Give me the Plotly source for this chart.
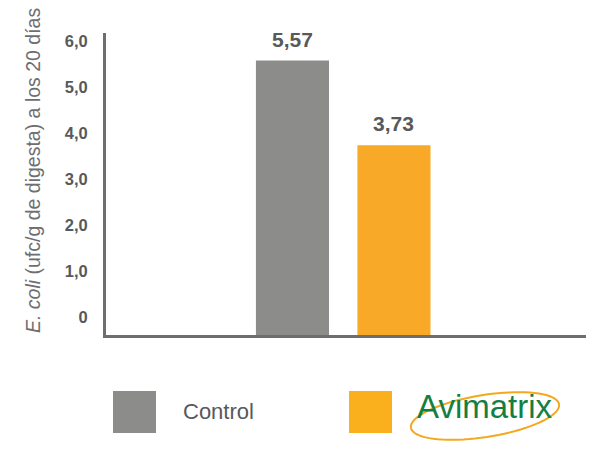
import numpy as np
import plotly.graph_objects as go

# ---- data ----
categories = ["Control", "Avimatrix"]
values = [5.57, 3.73]
value_labels = ["5,57", "3,73"]
tick_vals = [0, 1, 2, 3, 4, 5, 6]
tick_text = ["0", "1,0", "2,0", "3,0", "4,0", "5,0", "6,0"]
bar_colors = ["#8c8c8b", "#f7a927"]

# ---- layout geometry (pixels) ----
W, H = 600, 465
L, R, T, B = 106, 586, 33, 335
YMIN, YMAX = -0.39, 6.17


def px(x):
    return (x - L) / (R - L)


def py(y):
    return (B - y) / (B - T)


fig = go.Figure()
fig.add_trace(go.Bar(
    x=categories,
    y=[v - YMIN for v in values],
    base=YMIN,
    width=0.72,
    marker=dict(color=bar_colors, line=dict(width=0)),
    hoverinfo="skip",
    showlegend=False,
))

annotations = []
for c, v, t in zip(categories, values, value_labels):
    annotations.append(dict(
        x=c, y=v, xref="x", yref="y", text=t, showarrow=False,
        yanchor="bottom", yshift=8,
        font=dict(family="Liberation Sans", size=21, color="#58595b", weight="bold"),
    ))

# y axis title
annotations.append(dict(
    x=px(33), y=py(171), xref="paper", yref="paper",
    text="<i>E. coli</i> (ufc/g de digesta) a los 20 días",
    textangle=-90, showarrow=False, xanchor="center", yanchor="middle",
    font=dict(family="Liberation Sans", size=19.5, color="#6d6e71"),
))

# legend texts
annotations.append(dict(
    x=px(181), y=py(411), xref="paper", yref="paper", text=categories[0],
    showarrow=False, xanchor="left", yanchor="middle",
    font=dict(family="Liberation Sans", size=22, color="#58595b"),
))
annotations.append(dict(
    x=px(485), y=py(407), xref="paper", yref="paper", text=categories[1],
    showarrow=False, xanchor="center", yanchor="middle",
    font=dict(family="Liberation Sans", size=33, color="#137f43"),
))

shapes = [
    dict(type="rect", xref="paper", yref="paper",
         x0=px(113), x1=px(156), y0=py(433), y1=py(391),
         fillcolor=bar_colors[0], line=dict(width=0)),
    dict(type="rect", xref="paper", yref="paper",
         x0=px(349), x1=px(392), y0=py(433), y1=py(391),
         fillcolor="#f9b01c", line=dict(width=0)),
]

# tilted ellipse around the logo
th = np.linspace(0, 2 * np.pi, 80)
cx, cy, a, b, rot = 485, 416, 75, 21, np.deg2rad(-9)
ex = cx + a * np.cos(th) * np.cos(rot) - b * np.sin(th) * np.sin(rot)
ey = cy + a * np.cos(th) * np.sin(rot) + b * np.sin(th) * np.cos(rot)
path = "M " + " L ".join(f"{px(x):.5f},{py(y):.5f}" for x, y in zip(ex, ey)) + " Z"
shapes.insert(0, dict(type="path", xref="paper", yref="paper", path=path,
                      line=dict(color="#f4a81d", width=2), fillcolor="rgba(0,0,0,0)"))

fig.update_layout(
    template="none",
    width=W, height=H,
    margin=dict(l=L, r=W - R, t=T, b=H - B, pad=0),
    paper_bgcolor="white", plot_bgcolor="white",
    annotations=annotations, shapes=shapes,
    showlegend=False,
    xaxis=dict(
        range=[-1.837, 2.892], showticklabels=False, showgrid=False,
        zeroline=False, showline=True, linecolor="#6d6e70", linewidth=3,
        ticks="", fixedrange=True, automargin=False,
    ),
    yaxis=dict(
        range=[YMIN, YMAX], tickvals=tick_vals, ticktext=tick_text,
        showgrid=False, zeroline=False, showline=True, linecolor="#6d6e70",
        linewidth=3, ticks="", ticklabelstandoff=12, automargin=False,
        tickfont=dict(family="Liberation Sans", size=16.5, color="#58595b", weight="bold"),
        fixedrange=True,
    ),
)

fig.write_html(
    "out.html",
    config={"displayModeBar": False},
    post_script="document.body.style.margin='0';document.body.style.overflow='hidden';",
)
